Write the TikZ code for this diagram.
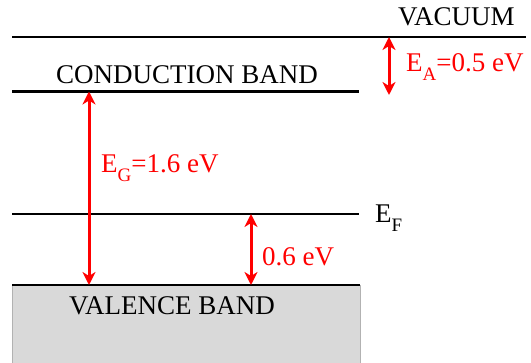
\documentclass[tikz,border=0pt]{standalone}
\usepackage{fontspec}
\setmainfont{Liberation Serif}
\usetikzlibrary{arrows.meta}
\definecolor{valgray}{HTML}{D9D9D9}
\newcommand{\lowidx}[1]{\raisebox{-0.3em}{\fontsize{19}{19}\selectfont #1}}
\begin{document}
\begin{tikzpicture}[x=1pt,y=-1pt,line join=round,
	level/.style={line width=2.4pt},
	gap/.style={red,line width=3pt,{Stealth[length=13pt,width=13pt,inset=4pt]}-{Stealth[length=13pt,width=13pt,inset=4pt]}},
	lbl/.style={anchor=base west,inner sep=0pt,font=\fontsize{27}{31}\selectfont},
	redlbl/.style={lbl,text=red}]
	\useasboundingbox (0,0) rectangle (531,363);
	
	% valence band block
	\filldraw[fill=valgray,draw=gray!60] (12,285) rectangle (360,366);
	
	% band edges
	\coordinate (vacL) at (12,37);   \coordinate (vacR) at (526,37);
	\coordinate (cbL) at (12,91.5);  \coordinate (cbR) at (359,91.5);
	\coordinate (efL) at (12,214);   \coordinate (efR) at (359,214);
	\coordinate (vbL) at (12,285);   \coordinate (vbR) at (360,285);
	\draw[level] (vacL)--(vacR) (cbL)--(cbR) (efL)--(efR) (vbL)--(vbR);
	
	% arrow ends
	\coordinate (eaTop) at (389,37);  \coordinate (eaBot) at (389,95);
	\coordinate (egTop) at (89,91.5); \coordinate (egBot) at (89,285);
	\coordinate (fTop) at (251,214);  \coordinate (fBot) at (251,285);
	\draw[gap] (eaTop)--(eaBot);
	\draw[gap] (egTop)--(egBot);
	\draw[gap] (fTop)--(fBot);
	
	% labels
	\node[lbl] (vac) at (398,26) {VACUUM};
	\node[lbl] (cb) at (56,84) {CONDUCTION BAND};
	\node[lbl] (vb) at (69,315) {VALENCE BAND};
	\node[lbl] (ef) at (375,223) {E\lowidx{F}};
	\node[redlbl] (ea) at (406,72) {E\lowidx{A}=0.5 eV};
	\node[redlbl] (eg) at (101,173) {E\lowidx{G}=1.6 eV};
	\node[redlbl] (ev) at (262,266) {0.6 eV};
\end{tikzpicture}
\end{document}
